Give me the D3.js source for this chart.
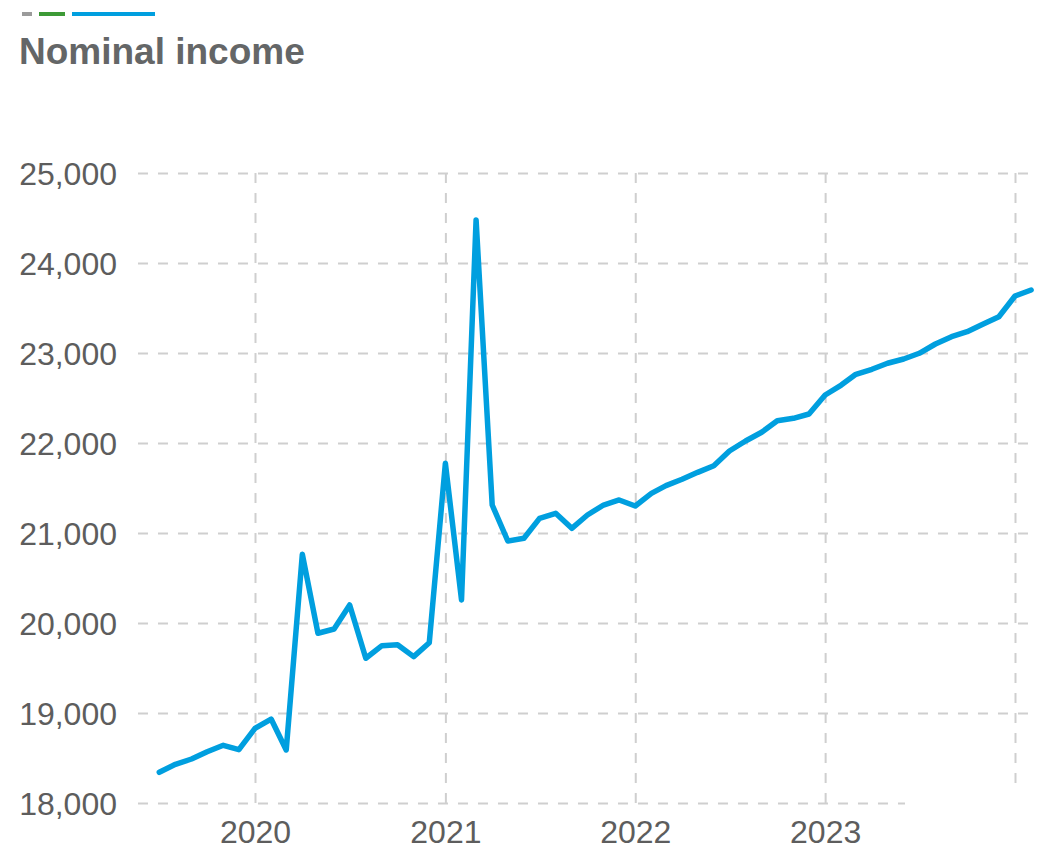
<!DOCTYPE html>
<html>
<head>
<meta charset="utf-8">
<script src="https://cdn.jsdelivr.net/npm/d3@7"></script>
<style>
  html, body { margin: 0; padding: 0; background: #fff; }
  svg { display: block; }
</style>
</head>
<body>
<script>
// Monthly nominal income, Jul 2019 – Feb 2024
const months = [
  "2019-07","2019-08","2019-09","2019-10","2019-11","2019-12",
  "2020-01","2020-02","2020-03","2020-04","2020-05","2020-06",
  "2020-07","2020-08","2020-09","2020-10","2020-11","2020-12",
  "2021-01","2021-02","2021-03","2021-04","2021-05","2021-06",
  "2021-07","2021-08","2021-09","2021-10","2021-11","2021-12",
  "2022-01","2022-02","2022-03","2022-04","2022-05","2022-06",
  "2022-07","2022-08","2022-09","2022-10","2022-11","2022-12",
  "2023-01","2023-02","2023-03","2023-04","2023-05","2023-06",
  "2023-07","2023-08","2023-09","2023-10","2023-11","2023-12",
  "2024-01","2024-02"
];
const nominalIncome = [
  18341, 18430, 18489, 18570, 18641, 18592,
  18830, 18933, 18589, 20763, 19886, 19933,
  20200, 19608, 19748, 19759, 19626, 19781,
  21774, 20256, 24478, 21311, 20911, 20941,
  21163, 21219, 21052, 21200, 21311, 21367,
  21300, 21441, 21526, 21597, 21674, 21748,
  21911, 22022, 22119, 22248, 22274, 22322,
  22533, 22644, 22763, 22819, 22886, 22933,
  22997, 23100, 23181, 23237, 23322, 23403,
  23633, 23700
];
const yTicks = [18000, 19000, 20000, 21000, 22000, 23000, 24000, 25000];
const xGridYears = [2020, 2021, 2022, 2023, 2024];
const xTickLabels = ["2020", "2021", "2022", "2023"];
const title = "Nominal income";
const legendColors = ["#9b9b9b", "#3d9a36", "#009fdf"];

const W = 1038, H = 848;
const plotLeft = 138, plotRight = 1038, plotTop = 173, plotBottom = 803;
const parse = d3.timeParse("%Y-%m");
const data = months.map((m, i) => ({ date: parse(m), value: nominalIncome[i] }));

const svg = d3.select("body").append("svg")
  .attr("width", W).attr("height", H)
  .style("font-family", "'Liberation Sans', Arial, sans-serif");

// Scales: one year spans 190px, 1,000 spans 90px
const x = d3.scaleTime()
  .domain([new Date(2020, 0, 1), new Date(2024, 0, 1)])
  .range([255, 1015]);
const y = d3.scaleLinear().domain([18000, 25000]).range([plotBottom, plotTop]);

// Legend swatches
const swatches = [[22, 32], [39, 65], [72, 155]];
svg.append("g").selectAll("rect").data(swatches).join("rect")
  .attr("x", d => d[0]).attr("y", 12)
  .attr("width", d => d[1] - d[0]).attr("height", 4)
  .attr("fill", (d, i) => legendColors[i]);

// Title
svg.append("text")
  .attr("x", 19).attr("y", 64)
  .attr("font-size", 37).attr("font-weight", "bold")
  .attr("fill", "#646667")
  .text(title);

// Vertical year gridlines with labels
const xAxis = d3.axisBottom(x)
  .tickValues(xGridYears.map(yr => new Date(yr, 0, 1)))
  .tickSize(-(plotBottom - plotTop))
  .tickPadding(17)
  .tickFormat(d => xTickLabels.includes(String(d.getFullYear())) ? String(d.getFullYear()) : "");
const gx = svg.append("g").attr("transform", `translate(0,${plotBottom})`).call(xAxis);
gx.select(".domain").remove();
gx.selectAll(".tick line")
  .attr("stroke", "#cfcfcf").attr("stroke-width", 2)
  .attr("stroke-dasharray", "10,10");
gx.selectAll(".tick text")
  .attr("font-size", 32).attr("fill", "#5d5d5d")
  .attr("font-family", "'Liberation Sans', Arial, sans-serif");

// Horizontal value gridlines with labels
const yAxis = d3.axisLeft(y)
  .tickValues(yTicks)
  .tickSize(-(plotRight - plotLeft))
  .tickPadding(21)
  .tickFormat(d3.format(","));
const gy = svg.append("g").attr("transform", `translate(${plotLeft},0)`).call(yAxis);
gy.select(".domain").remove();
gy.selectAll(".tick line")
  .attr("stroke", "#cfcfcf").attr("stroke-width", 2)
  .attr("stroke-dasharray", "10,10");
gy.selectAll(".tick text")
  .attr("font-size", 32).attr("fill", "#5d5d5d")
  .attr("dy", "0.36em")
  .attr("font-family", "'Liberation Sans', Arial, sans-serif");

// Blank panel in the lower-right corner
svg.append("rect")
  .attr("x", 905).attr("y", 786)
  .attr("width", W - 905).attr("height", 24)
  .attr("fill", "#fff");

// Income line
const line = d3.line().x(d => x(d.date)).y(d => y(d.value));
svg.append("path")
  .datum(data)
  .attr("d", line)
  .attr("fill", "none")
  .attr("stroke", "#009fdf")
  .attr("stroke-width", 5.5)
  .attr("stroke-linejoin", "round")
  .attr("stroke-linecap", "round");
</script>
</body>
</html>
